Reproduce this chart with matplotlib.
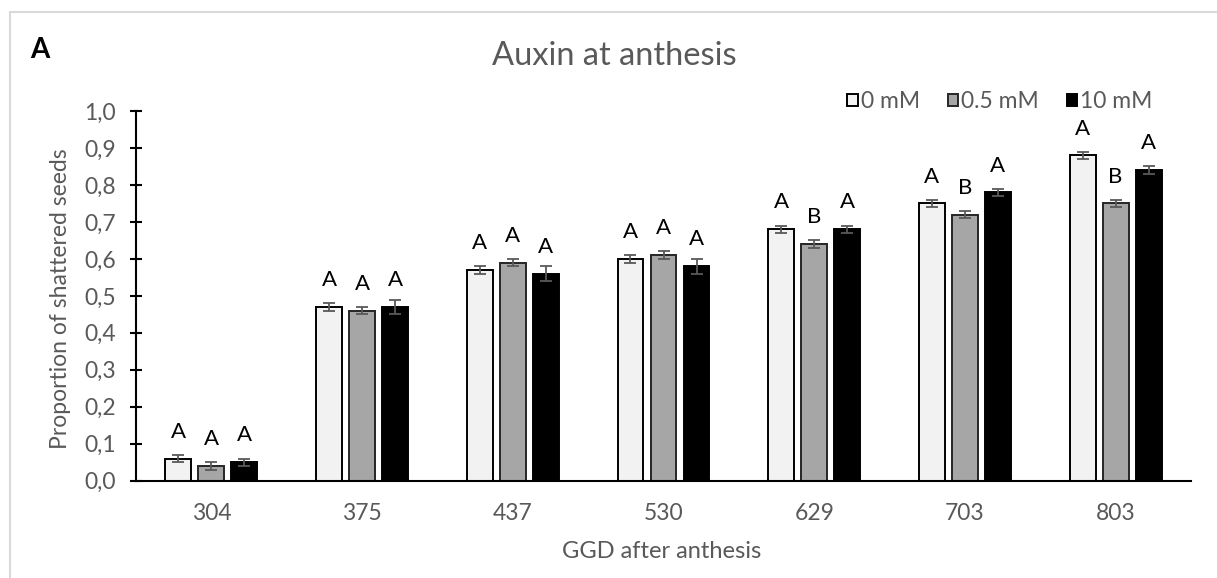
import matplotlib
matplotlib.use("Agg")
import matplotlib.pyplot as plt
from matplotlib.patches import Patch, Rectangle
import numpy as np

plt.rcParams['font.family'] = ['Lato', 'DejaVu Sans']

# Data
ggd = ["304", "375", "437", "530", "629", "703", "803"]
series = ["0 mM", "0.5 mM", "10 mM"]
mean_0 = [0.06, 0.47, 0.57, 0.60, 0.68, 0.75, 0.88]
mean_05 = [0.04, 0.46, 0.59, 0.61, 0.64, 0.72, 0.75]
mean_10 = [0.05, 0.47, 0.56, 0.58, 0.68, 0.78, 0.84]
err_0 = [0.01, 0.01, 0.01, 0.01, 0.01, 0.01, 0.01]
err_05 = [0.01, 0.01, 0.01, 0.01, 0.01, 0.01, 0.01]
err_10 = [0.01, 0.02, 0.02, 0.02, 0.01, 0.01, 0.01]
letters_0 = ["A", "A", "A", "A", "A", "A", "A"]
letters_05 = ["A", "A", "A", "A", "B", "B", "B"]
letters_10 = ["A", "A", "A", "A", "A", "A", "A"]
yticks = [0.0, 0.1, 0.2, 0.3, 0.4, 0.5, 0.6, 0.7, 0.8, 0.9, 1.0]

W, H = 1217, 578
fig = plt.figure(figsize=(W / 100, H / 100), dpi=100)
ax = fig.add_axes([136 / W, 1 - 480.7 / H, (1191 - 136) / W, (480.7 - 111) / H])

text_grey = "#595959"
fills = ["#F2F2F2", "#A6A6A6", "#000000"]
edges = ["#000000", "#262626", "#000000"]
means = [mean_0, mean_05, mean_10]
errs = [err_0, err_05, err_10]
letters = [letters_0, letters_05, letters_10]

x = np.arange(len(ggd))
step = 0.219
width = 0.172
for i in range(3):
    xi = x + (i - 1) * step
    ax.bar(xi, means[i], width, color=fills[i], edgecolor=edges[i],
           linewidth=1.4, zorder=2)
    ax.errorbar(xi, means[i], yerr=errs[i], fmt="none", ecolor="#595959",
                elinewidth=1.3, capsize=4.6, capthick=1.3, zorder=3)
    for xx, m, lab in zip(xi, means[i], letters[i]):
        ax.annotate(lab, (xx, m), xytext=(0, 15), textcoords="offset points",
                    ha="center", va="baseline", fontsize=16, color="black")

ax.set_xlim(-0.5, len(ggd) - 0.5)
ax.set_ylim(0, 1.0)
ax.set_xticks(x)
ax.set_xticklabels(ggd)
ax.set_yticks(yticks)
ax.set_yticklabels([f"{t:.1f}".replace(".", ",") for t in yticks])

for s in ["top", "right"]:
    ax.spines[s].set_visible(False)
for s in ["left", "bottom"]:
    ax.spines[s].set_linewidth(1.5)
    ax.spines[s].set_color("black")
ax.tick_params(axis="y", direction="inout", length=9, width=1.5, color="black",
               labelsize=16.5, labelcolor=text_grey, pad=10)
ax.tick_params(axis="x", length=0, labelsize=16.5, labelcolor=text_grey, pad=16)

fig.text(61 / W, 1 - 299 / H, "Proportion of shattered seeds", rotation=90,
         ha="center", va="center", fontsize=16.5, color=text_grey)
fig.text(662 / W, 1 - 551.7 / H, "GGD after anthesis", ha="center", va="center",
         fontsize=17, color=text_grey)
fig.text(614 / W, 1 - 56 / H, "Auxin at anthesis", ha="center", va="center",
         fontsize=23.5, color=text_grey)
fig.text(30 / W, 1 - 58.3 / H, "A", ha="left", va="baseline", fontsize=20,
         fontweight="bold", color="black")

handles = [Patch(facecolor=fills[i], edgecolor=edges[i], linewidth=1.4, label=series[i])
           for i in range(3)]
fig.legend(handles=handles, loc="center", bbox_to_anchor=(1000 / W, 1 - 101.7 / H),
           ncol=3, frameon=False, fontsize=16.5, labelcolor=text_grey,
           handlelength=0.45, handleheight=0.45, handletextpad=0.15,
           columnspacing=1.2, borderpad=0, borderaxespad=0)

# Light frame around the figure panel
fig.patches.append(Rectangle((10 / W, -0.1), 1.2, 1 - 12 / H + 0.1,
                             transform=fig.transFigure, fill=False,
                             edgecolor="#D9D9D9", linewidth=1.5))

fig.savefig("out.png", dpi=100)
